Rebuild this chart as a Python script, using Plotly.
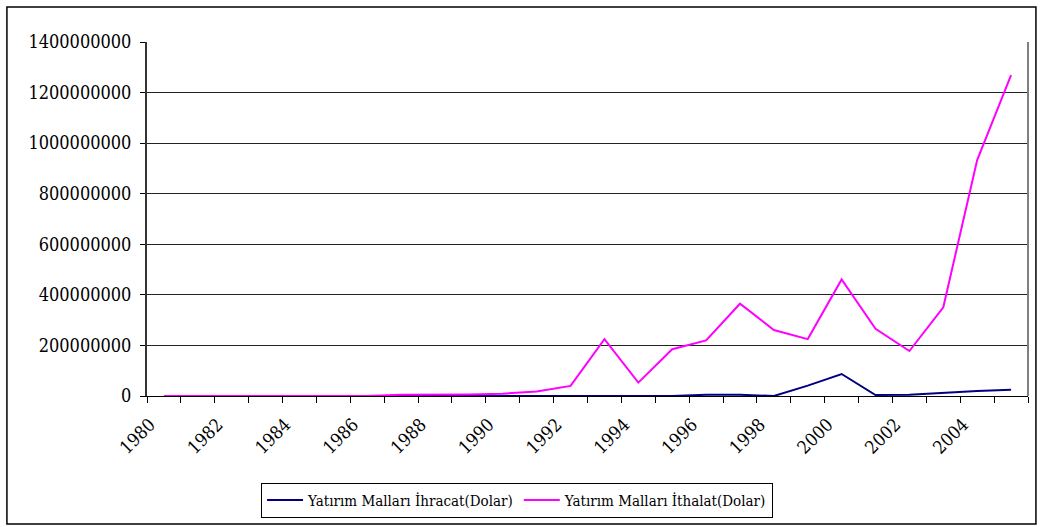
import plotly.graph_objects as go

years = list(range(1980, 2006))
ihracat = [0, 0, 0, 0, 0, 0, 0, 0, 0, 0, 0, 0, 0, 0, 0, 0, 5e6, 5e6, 0, 41e6, 87e6, 4e6, 5e6, 13e6, 20e6, 25e6]
ithalat = [0, 0, 0, 0, 0, 0, 0, 5e6, 5e6, 6e6, 9e6, 18e6, 40e6, 225e6, 53e6, 185e6, 220e6, 365e6, 261e6, 225e6, 461e6, 266e6, 178e6, 351e6, 933e6, 1269e6]
tick_years = list(range(1980, 2006, 2))
y_ticks = list(range(0, 1400000001, 200000000))

FONT = "DejaVu Serif Condensed, DejaVu Serif, serif"

fig = go.Figure()
fig.add_trace(go.Scatter(x=years, y=ihracat, mode="lines", name="Yatırım Malları İhracat(Dolar)",
                         line=dict(color="#000080", width=2)))
fig.add_trace(go.Scatter(x=years, y=ithalat, mode="lines", name="Yatırım Malları İthalat(Dolar)",
                         line=dict(color="#FF00FF", width=2)))

fig.update_layout(
    width=1041, height=527,
    margin=dict(l=147, r=13, t=42, b=131, autoexpand=False),
    paper_bgcolor="white", plot_bgcolor="white",
    font=dict(family=FONT, size=18, color="black"),
    showlegend=True,
    legend=dict(orientation="h", x=0.42, xanchor="center", y=-0.245, yanchor="top",
                bordercolor="black", borderwidth=1, font=dict(family=FONT, size=15),
                itemwidth=36, tracegroupgap=0),
    xaxis=dict(range=[1979.5, 2005.5], tickmode="array", tickvals=tick_years, automargin=False,
               ticktext=[str(y) for y in tick_years], tickangle=-45, ticks="", showgrid=False,
               ticklabelshift=-14, ticklabelstandoff=10,
               zeroline=False, showline=True, linecolor="black", linewidth=1,
               minor=dict(ticks="outside", ticklen=6, tickcolor="black", tick0=1979.5, dtick=1, showgrid=False),
               tickfont=dict(family=FONT, size=18)),
    yaxis=dict(range=[0, 1400000000], tickmode="array", tickvals=y_ticks, automargin=False,
               ticktext=[str(v) for v in y_ticks], ticks="outside", ticklen=5, tickcolor="black",
               ticklabelstandoff=5,
               showgrid=True, gridcolor="#222222", gridwidth=1, zeroline=False,
               showline=True, linecolor="#333333", linewidth=2,
               tickfont=dict(family=FONT, size=18)),
    shapes=[
        dict(type="line", xref="paper", yref="paper", x0=1, x1=1, y0=0, y1=1,
             line=dict(color="#808080", width=2)),
        dict(type="rect", xref="paper", yref="paper", x0=-0.159, x1=1.009, y0=-0.3616, y1=1.099,
             line=dict(color="black", width=1.5)),
    ],
)

fig.write_html("out.html", config={"displayModeBar": False},
               post_script="document.body.style.margin='0';")
